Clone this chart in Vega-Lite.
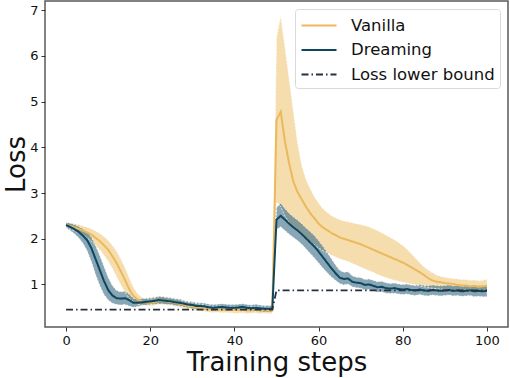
{
  "$schema": "https://vega.github.io/schema/vega-lite/v6.json",
  "width": 463,
  "height": 326,
  "autosize": "none",
  "padding": {"left": 45, "top": 1, "right": 2, "bottom": 51},
  "datasets": {
    "d": [
      {"s":0,"Vanilla":2.30,"vl":2.25,"vh":2.35,"Dreaming":2.30,"dl":2.24,"dh":2.36,"Loss lower bound":0.45},
      {"s":1,"Vanilla":2.28,"vl":2.21,"vh":2.35,"Dreaming":2.26,"dl":2.18,"dh":2.34,"Loss lower bound":0.45},
      {"s":2,"Vanilla":2.25,"vl":2.17,"vh":2.33,"Dreaming":2.21,"dl":2.11,"dh":2.31,"Loss lower bound":0.45},
      {"s":3,"Vanilla":2.22,"vl":2.13,"vh":2.31,"Dreaming":2.15,"dl":2.02,"dh":2.27,"Loss lower bound":0.45},
      {"s":4,"Vanilla":2.18,"vl":2.08,"vh":2.28,"Dreaming":2.07,"dl":1.90,"dh":2.22,"Loss lower bound":0.45},
      {"s":5,"Vanilla":2.14,"vl":2.02,"vh":2.25,"Dreaming":1.97,"dl":1.74,"dh":2.15,"Loss lower bound":0.45},
      {"s":6,"Vanilla":2.09,"vl":1.95,"vh":2.22,"Dreaming":1.80,"dl":1.50,"dh":2.04,"Loss lower bound":0.45},
      {"s":7,"Vanilla":2.02,"vl":1.86,"vh":2.17,"Dreaming":1.56,"dl":1.22,"dh":1.86,"Loss lower bound":0.45},
      {"s":8,"Vanilla":1.95,"vl":1.76,"vh":2.12,"Dreaming":1.32,"dl":0.98,"dh":1.64,"Loss lower bound":0.45},
      {"s":9,"Vanilla":1.86,"vl":1.64,"vh":2.05,"Dreaming":1.08,"dl":0.78,"dh":1.40,"Loss lower bound":0.45},
      {"s":10,"Vanilla":1.76,"vl":1.51,"vh":1.97,"Dreaming":0.88,"dl":0.66,"dh":1.16,"Loss lower bound":0.45},
      {"s":11,"Vanilla":1.62,"vl":1.35,"vh":1.86,"Dreaming":0.76,"dl":0.59,"dh":0.98,"Loss lower bound":0.45},
      {"s":12,"Vanilla":1.47,"vl":1.17,"vh":1.73,"Dreaming":0.70,"dl":0.56,"dh":0.87,"Loss lower bound":0.45},
      {"s":13,"Vanilla":1.29,"vl":0.99,"vh":1.56,"Dreaming":0.69,"dl":0.55,"dh":0.84,"Loss lower bound":0.45},
      {"s":14,"Vanilla":1.10,"vl":0.83,"vh":1.37,"Dreaming":0.70,"dl":0.56,"dh":0.85,"Loss lower bound":0.45},
      {"s":15,"Vanilla":0.90,"vl":0.70,"vh":1.15,"Dreaming":0.66,"dl":0.53,"dh":0.79,"Loss lower bound":0.45},
      {"s":16,"Vanilla":0.75,"vl":0.62,"vh":0.94,"Dreaming":0.60,"dl":0.50,"dh":0.70,"Loss lower bound":0.45},
      {"s":17,"Vanilla":0.67,"vl":0.57,"vh":0.80,"Dreaming":0.60,"dl":0.52,"dh":0.68,"Loss lower bound":0.45},
      {"s":18,"Vanilla":0.63,"vl":0.55,"vh":0.72,"Dreaming":0.61,"dl":0.54,"dh":0.69,"Loss lower bound":0.45},
      {"s":19,"Vanilla":0.61,"vl":0.54,"vh":0.69,"Dreaming":0.62,"dl":0.55,"dh":0.70,"Loss lower bound":0.45},
      {"s":20,"Vanilla":0.60,"vl":0.53,"vh":0.68,"Dreaming":0.63,"dl":0.56,"dh":0.71,"Loss lower bound":0.45},
      {"s":21,"Vanilla":0.61,"vl":0.54,"vh":0.70,"Dreaming":0.64,"dl":0.57,"dh":0.72,"Loss lower bound":0.45},
      {"s":22,"Vanilla":0.64,"vl":0.56,"vh":0.73,"Dreaming":0.66,"dl":0.58,"dh":0.74,"Loss lower bound":0.45},
      {"s":23,"Vanilla":0.65,"vl":0.57,"vh":0.74,"Dreaming":0.65,"dl":0.57,"dh":0.73,"Loss lower bound":0.45},
      {"s":24,"Vanilla":0.63,"vl":0.55,"vh":0.71,"Dreaming":0.64,"dl":0.56,"dh":0.72,"Loss lower bound":0.45},
      {"s":25,"Vanilla":0.62,"vl":0.54,"vh":0.70,"Dreaming":0.63,"dl":0.56,"dh":0.71,"Loss lower bound":0.45},
      {"s":26,"Vanilla":0.60,"vl":0.52,"vh":0.68,"Dreaming":0.61,"dl":0.54,"dh":0.69,"Loss lower bound":0.45},
      {"s":27,"Vanilla":0.58,"vl":0.50,"vh":0.66,"Dreaming":0.60,"dl":0.53,"dh":0.68,"Loss lower bound":0.45},
      {"s":28,"Vanilla":0.55,"vl":0.48,"vh":0.63,"Dreaming":0.58,"dl":0.51,"dh":0.65,"Loss lower bound":0.45},
      {"s":29,"Vanilla":0.53,"vl":0.46,"vh":0.61,"Dreaming":0.56,"dl":0.49,"dh":0.63,"Loss lower bound":0.45},
      {"s":30,"Vanilla":0.52,"vl":0.45,"vh":0.60,"Dreaming":0.55,"dl":0.48,"dh":0.62,"Loss lower bound":0.45},
      {"s":31,"Vanilla":0.50,"vl":0.43,"vh":0.58,"Dreaming":0.53,"dl":0.46,"dh":0.60,"Loss lower bound":0.45},
      {"s":32,"Vanilla":0.49,"vl":0.42,"vh":0.57,"Dreaming":0.53,"dl":0.46,"dh":0.60,"Loss lower bound":0.45},
      {"s":33,"Vanilla":0.48,"vl":0.41,"vh":0.55,"Dreaming":0.52,"dl":0.45,"dh":0.59,"Loss lower bound":0.45},
      {"s":34,"Vanilla":0.46,"vl":0.39,"vh":0.53,"Dreaming":0.50,"dl":0.43,"dh":0.57,"Loss lower bound":0.45},
      {"s":35,"Vanilla":0.45,"vl":0.38,"vh":0.52,"Dreaming":0.49,"dl":0.42,"dh":0.56,"Loss lower bound":0.45},
      {"s":36,"Vanilla":0.46,"vl":0.39,"vh":0.53,"Dreaming":0.50,"dl":0.43,"dh":0.57,"Loss lower bound":0.45},
      {"s":37,"Vanilla":0.45,"vl":0.38,"vh":0.52,"Dreaming":0.51,"dl":0.44,"dh":0.58,"Loss lower bound":0.45},
      {"s":38,"Vanilla":0.44,"vl":0.38,"vh":0.51,"Dreaming":0.50,"dl":0.43,"dh":0.57,"Loss lower bound":0.45},
      {"s":39,"Vanilla":0.45,"vl":0.38,"vh":0.52,"Dreaming":0.49,"dl":0.42,"dh":0.56,"Loss lower bound":0.45},
      {"s":40,"Vanilla":0.44,"vl":0.37,"vh":0.51,"Dreaming":0.49,"dl":0.42,"dh":0.56,"Loss lower bound":0.45},
      {"s":41,"Vanilla":0.44,"vl":0.37,"vh":0.51,"Dreaming":0.50,"dl":0.43,"dh":0.57,"Loss lower bound":0.45},
      {"s":42,"Vanilla":0.45,"vl":0.38,"vh":0.52,"Dreaming":0.51,"dl":0.44,"dh":0.58,"Loss lower bound":0.45},
      {"s":43,"Vanilla":0.43,"vl":0.36,"vh":0.50,"Dreaming":0.49,"dl":0.42,"dh":0.56,"Loss lower bound":0.45},
      {"s":44,"Vanilla":0.44,"vl":0.37,"vh":0.51,"Dreaming":0.48,"dl":0.41,"dh":0.55,"Loss lower bound":0.45},
      {"s":45,"Vanilla":0.45,"vl":0.38,"vh":0.52,"Dreaming":0.49,"dl":0.42,"dh":0.57,"Loss lower bound":0.45},
      {"s":46,"Vanilla":0.43,"vl":0.36,"vh":0.50,"Dreaming":0.48,"dl":0.41,"dh":0.55,"Loss lower bound":0.45},
      {"s":47,"Vanilla":0.44,"vl":0.37,"vh":0.51,"Dreaming":0.47,"dl":0.40,"dh":0.54,"Loss lower bound":0.45},
      {"s":48,"Vanilla":0.43,"vl":0.36,"vh":0.50,"Dreaming":0.47,"dl":0.40,"dh":0.54,"Loss lower bound":0.45},
      {"s":49,"Vanilla":0.43,"vl":0.36,"vh":0.50,"Dreaming":0.47,"dl":0.40,"dh":0.54,"Loss lower bound":0.45},
      {"s":50,"Vanilla":4.60,"vl":2.80,"vh":6.40,"Dreaming":2.42,"dl":2.20,"dh":2.68,"Loss lower bound":0.87},
      {"s":51,"Vanilla":4.78,"vl":2.70,"vh":6.87,"Dreaming":2.50,"dl":2.26,"dh":2.78,"Loss lower bound":0.87},
      {"s":52,"Vanilla":4.13,"vl":2.50,"vh":6.20,"Dreaming":2.42,"dl":2.18,"dh":2.66,"Loss lower bound":0.87},
      {"s":53,"Vanilla":3.65,"vl":2.35,"vh":5.50,"Dreaming":2.33,"dl":2.10,"dh":2.56,"Loss lower bound":0.87},
      {"s":54,"Vanilla":3.25,"vl":2.25,"vh":4.80,"Dreaming":2.25,"dl":2.03,"dh":2.48,"Loss lower bound":0.87},
      {"s":55,"Vanilla":3.02,"vl":2.15,"vh":4.10,"Dreaming":2.18,"dl":1.96,"dh":2.41,"Loss lower bound":0.87},
      {"s":56,"Vanilla":2.86,"vl":2.08,"vh":3.60,"Dreaming":2.10,"dl":1.88,"dh":2.33,"Loss lower bound":0.87},
      {"s":57,"Vanilla":2.70,"vl":2.00,"vh":3.30,"Dreaming":2.01,"dl":1.78,"dh":2.24,"Loss lower bound":0.87},
      {"s":58,"Vanilla":2.56,"vl":1.93,"vh":3.10,"Dreaming":1.92,"dl":1.68,"dh":2.16,"Loss lower bound":0.87},
      {"s":59,"Vanilla":2.45,"vl":1.87,"vh":2.92,"Dreaming":1.83,"dl":1.58,"dh":2.07,"Loss lower bound":0.87},
      {"s":60,"Vanilla":2.33,"vl":1.80,"vh":2.78,"Dreaming":1.72,"dl":1.47,"dh":1.96,"Loss lower bound":0.87},
      {"s":61,"Vanilla":2.25,"vl":1.74,"vh":2.66,"Dreaming":1.60,"dl":1.36,"dh":1.84,"Loss lower bound":0.87},
      {"s":62,"Vanilla":2.19,"vl":1.69,"vh":2.58,"Dreaming":1.48,"dl":1.26,"dh":1.71,"Loss lower bound":0.87},
      {"s":63,"Vanilla":2.13,"vl":1.64,"vh":2.51,"Dreaming":1.36,"dl":1.17,"dh":1.57,"Loss lower bound":0.87},
      {"s":64,"Vanilla":2.08,"vl":1.60,"vh":2.46,"Dreaming":1.25,"dl":1.09,"dh":1.43,"Loss lower bound":0.87},
      {"s":65,"Vanilla":2.03,"vl":1.56,"vh":2.42,"Dreaming":1.15,"dl":1.02,"dh":1.31,"Loss lower bound":0.87},
      {"s":66,"Vanilla":2.00,"vl":1.53,"vh":2.39,"Dreaming":1.12,"dl":0.99,"dh":1.27,"Loss lower bound":0.87},
      {"s":67,"Vanilla":1.97,"vl":1.50,"vh":2.37,"Dreaming":1.13,"dl":1.01,"dh":1.28,"Loss lower bound":0.87},
      {"s":68,"Vanilla":1.94,"vl":1.46,"vh":2.35,"Dreaming":1.06,"dl":0.95,"dh":1.19,"Loss lower bound":0.87},
      {"s":69,"Vanilla":1.91,"vl":1.42,"vh":2.33,"Dreaming":1.04,"dl":0.93,"dh":1.16,"Loss lower bound":0.87},
      {"s":70,"Vanilla":1.88,"vl":1.38,"vh":2.31,"Dreaming":1.03,"dl":0.92,"dh":1.15,"Loss lower bound":0.87},
      {"s":71,"Vanilla":1.84,"vl":1.34,"vh":2.29,"Dreaming":0.99,"dl":0.88,"dh":1.11,"Loss lower bound":0.87},
      {"s":72,"Vanilla":1.80,"vl":1.30,"vh":2.26,"Dreaming":1.00,"dl":0.89,"dh":1.12,"Loss lower bound":0.87},
      {"s":73,"Vanilla":1.76,"vl":1.26,"vh":2.22,"Dreaming":0.97,"dl":0.86,"dh":1.09,"Loss lower bound":0.87},
      {"s":74,"Vanilla":1.72,"vl":1.22,"vh":2.18,"Dreaming":0.94,"dl":0.83,"dh":1.06,"Loss lower bound":0.87},
      {"s":75,"Vanilla":1.68,"vl":1.18,"vh":2.13,"Dreaming":0.95,"dl":0.84,"dh":1.07,"Loss lower bound":0.87},
      {"s":76,"Vanilla":1.64,"vl":1.15,"vh":2.08,"Dreaming":0.92,"dl":0.81,"dh":1.04,"Loss lower bound":0.87},
      {"s":77,"Vanilla":1.60,"vl":1.12,"vh":2.03,"Dreaming":0.91,"dl":0.80,"dh":1.02,"Loss lower bound":0.87},
      {"s":78,"Vanilla":1.56,"vl":1.09,"vh":1.98,"Dreaming":0.92,"dl":0.81,"dh":1.03,"Loss lower bound":0.87},
      {"s":79,"Vanilla":1.52,"vl":1.07,"vh":1.92,"Dreaming":0.90,"dl":0.79,"dh":1.01,"Loss lower bound":0.87},
      {"s":80,"Vanilla":1.48,"vl":1.05,"vh":1.85,"Dreaming":0.89,"dl":0.78,"dh":1.00,"Loss lower bound":0.87},
      {"s":81,"Vanilla":1.43,"vl":1.03,"vh":1.77,"Dreaming":0.90,"dl":0.79,"dh":1.01,"Loss lower bound":0.87},
      {"s":82,"Vanilla":1.38,"vl":1.01,"vh":1.68,"Dreaming":0.88,"dl":0.77,"dh":0.99,"Loss lower bound":0.87},
      {"s":83,"Vanilla":1.32,"vl":0.99,"vh":1.58,"Dreaming":0.87,"dl":0.76,"dh":0.98,"Loss lower bound":0.87},
      {"s":84,"Vanilla":1.27,"vl":0.97,"vh":1.48,"Dreaming":0.89,"dl":0.78,"dh":1.00,"Loss lower bound":0.87},
      {"s":85,"Vanilla":1.21,"vl":0.95,"vh":1.39,"Dreaming":0.87,"dl":0.76,"dh":0.98,"Loss lower bound":0.87},
      {"s":86,"Vanilla":1.14,"vl":0.93,"vh":1.32,"Dreaming":0.86,"dl":0.75,"dh":0.97,"Loss lower bound":0.87},
      {"s":87,"Vanilla":1.09,"vl":0.92,"vh":1.26,"Dreaming":0.88,"dl":0.77,"dh":0.99,"Loss lower bound":0.87},
      {"s":88,"Vanilla":1.06,"vl":0.91,"vh":1.21,"Dreaming":0.87,"dl":0.76,"dh":0.98,"Loss lower bound":0.87},
      {"s":89,"Vanilla":1.05,"vl":0.90,"vh":1.18,"Dreaming":0.86,"dl":0.75,"dh":0.97,"Loss lower bound":0.87},
      {"s":90,"Vanilla":1.03,"vl":0.89,"vh":1.16,"Dreaming":0.87,"dl":0.76,"dh":0.98,"Loss lower bound":0.87},
      {"s":91,"Vanilla":1.02,"vl":0.88,"vh":1.14,"Dreaming":0.88,"dl":0.77,"dh":0.99,"Loss lower bound":0.87},
      {"s":92,"Vanilla":1.01,"vl":0.88,"vh":1.13,"Dreaming":0.86,"dl":0.75,"dh":0.97,"Loss lower bound":0.87},
      {"s":93,"Vanilla":0.99,"vl":0.87,"vh":1.12,"Dreaming":0.87,"dl":0.76,"dh":0.98,"Loss lower bound":0.87},
      {"s":94,"Vanilla":0.98,"vl":0.86,"vh":1.11,"Dreaming":0.85,"dl":0.74,"dh":0.96,"Loss lower bound":0.87},
      {"s":95,"Vanilla":0.98,"vl":0.86,"vh":1.11,"Dreaming":0.86,"dl":0.75,"dh":0.97,"Loss lower bound":0.87},
      {"s":96,"Vanilla":0.96,"vl":0.85,"vh":1.09,"Dreaming":0.87,"dl":0.76,"dh":0.98,"Loss lower bound":0.87},
      {"s":97,"Vanilla":0.97,"vl":0.86,"vh":1.10,"Dreaming":0.85,"dl":0.73,"dh":0.97,"Loss lower bound":0.87},
      {"s":98,"Vanilla":0.95,"vl":0.84,"vh":1.08,"Dreaming":0.86,"dl":0.74,"dh":0.98,"Loss lower bound":0.87},
      {"s":99,"Vanilla":0.96,"vl":0.85,"vh":1.09,"Dreaming":0.85,"dl":0.73,"dh":0.97,"Loss lower bound":0.87},
      {"s":100,"Vanilla":0.97,"vl":0.83,"vh":1.12,"Dreaming":0.86,"dl":0.73,"dh":1.00,"Loss lower bound":0.87}
    ]
  },
  "data": {"name": "d"},
  "encoding": {
    "x": {"field": "s", "type": "quantitative", "scale": {"domain": [-5, 105], "nice": false, "zero": false},
      "axis": {"values": [0, 20, 40, 60, 80, 100], "title": "Training steps", "titlePadding": 2, "labelPadding": 3}}
  },
  "layer": [
    {
      "mark": {"type": "area", "color": "#E9B44C", "opacity": 0.45},
      "encoding": {
        "y": {"field": "vl", "type": "quantitative", "scale": {"domain": [0.07, 7.2], "nice": false, "zero": false},
          "axis": {"values": [1, 2, 3, 4, 5, 6, 7], "title": "Loss", "titlePadding": 0, "labelPadding": 3}},
        "y2": {"field": "vh"}
      }
    },
    {
      "mark": {"type": "area", "color": "#3F6F86", "opacity": 0.62},
      "encoding": {
        "y": {"field": "dl", "type": "quantitative"},
        "y2": {"field": "dh"}
      }
    },
    {
      "transform": [{"fold": ["vl", "vh", "dl", "dh"], "as": ["edge", "ev"]}],
      "mark": {"type": "line", "color": "#ffffff", "strokeWidth": 0.8, "strokeDash": [2, 1.5], "opacity": 0.9},
      "encoding": {
        "y": {"field": "ev", "type": "quantitative"},
        "detail": {"field": "edge"}
      }
    },
    {
      "mark": {"type": "line", "strokeWidth": 2},
      "encoding": {
        "y": {"field": "Vanilla", "type": "quantitative"},
        "color": {"datum": "Vanilla", "type": "nominal",
          "scale": {"domain": ["Vanilla", "Dreaming", "Loss lower bound"], "range": ["#EBB95C", "#0C4660", "#26303F"]},
          "legend": {"title": null}},
        "strokeDash": {"datum": "Vanilla", "type": "nominal",
          "scale": {"domain": ["Vanilla", "Dreaming", "Loss lower bound"], "range": [[1, 0], [1, 0], [7, 3, 1.5, 3]]},
          "legend": {"title": null}}
      }
    },
    {
      "mark": {"type": "line", "strokeWidth": 2},
      "encoding": {
        "y": {"field": "Dreaming", "type": "quantitative"},
        "color": {"datum": "Dreaming", "type": "nominal"},
        "strokeDash": {"datum": "Dreaming", "type": "nominal"}
      }
    },
    {
      "mark": {"type": "line", "strokeWidth": 1.8},
      "encoding": {
        "y": {"field": "Loss lower bound", "type": "quantitative"},
        "color": {"datum": "Loss lower bound", "type": "nominal"},
        "strokeDash": {"datum": "Loss lower bound", "type": "nominal"}
      }
    }
  ],
  "resolve": {"scale": {"color": "shared", "strokeDash": "shared"}},
  "config": {
    "font": "DejaVu Sans",
    "view": {"stroke": "#5a5a5a", "strokeWidth": 1.5},
    "axis": {"grid": false, "domain": false, "tickColor": "#333", "tickSize": 4, "labelFontSize": 13, "labelColor": "#111", "labelFont": "DejaVu Sans", "titleFont": "DejaVu Sans", "titleFontSize": 26, "titleFontWeight": "normal", "titleColor": "#111"},
    "legend": {"orient": "top-right", "offset": 8, "fillColor": "#ffffff", "strokeColor": "#d9d9d9", "cornerRadius": 3, "padding": 5, "labelFontSize": 16.5, "labelFont": "DejaVu Sans", "labelColor": "#111", "symbolType": "M-1,0H2.5", "symbolSize": 400, "symbolStrokeWidth": 2.2, "labelOffset": 28, "rowPadding": 4.5}
  }
}
